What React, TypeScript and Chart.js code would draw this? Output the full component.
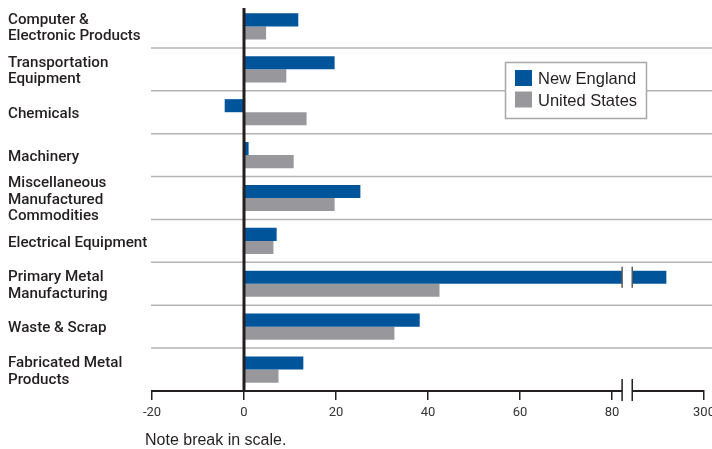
import React, { useEffect, useRef } from "react";
import { Chart, registerables } from "chart.js";

Chart.register(...registerables);

const CATEGORIES: string[][] = [
  ["Computer &", "Electronic Products"],
  ["Transportation", "Equipment"],
  ["Chemicals"],
  ["Machinery"],
  ["Miscellaneous", "Manufactured", "Commodities"],
  ["Electrical Equipment"],
  ["Primary Metal", "Manufacturing"],
  ["Waste & Scrap"],
  ["Fabricated Metal", "Products"],
];

const NEW_ENGLAND = [11.8, 19.7, -4.2, 1.0, 25.3, 7.1, 210, 38.2, 12.9];
const UNITED_STATES = [4.8, 9.2, 13.6, 10.8, 19.7, 6.4, 42.5, 32.7, 7.5];

const TICK_VALUES = [-20, 0, 20, 40, 60, 80, 300];
const SERIES_NAMES = ["New England", "United States"];
const NOTE = "Note break in scale.";

const BLUE = "#00559a";
const GREY = "#98989c";
const INK = "#231f20";

// Broken scale: values above 80 are compressed so 300 sits where 100 would be.
const BREAK_FROM = 80;
const BREAK_TO = 300;
const toAxis = (v: number) =>
  v <= BREAK_FROM ? v : BREAK_FROM + ((v - BREAK_FROM) * 20) / (BREAK_TO - BREAK_FROM);

const FONT = "Roboto, 'Liberation Sans', Arial, sans-serif";
const FONT2 = "'Liberation Sans', Arial, sans-serif";

export default function App() {
  const ref = useRef<HTMLCanvasElement | null>(null);

  useEffect(() => {
    if (!ref.current) return;

    const decor = {
      id: "decor",
      beforeDatasetsDraw(chart: any) {
        const { ctx, chartArea, scales } = chart;
        const y = scales.y;
        ctx.save();
        ctx.strokeStyle = "#b3b3b3";
        ctx.lineWidth = 1.5;
        for (let i = 0; i < CATEGORIES.length - 1; i++) {
          const yy = (y.getPixelForValue(i) + y.getPixelForValue(i + 1)) / 2;
          ctx.beginPath();
          ctx.moveTo(chartArea.left - 1, yy);
          ctx.lineTo(chart.width, yy);
          ctx.stroke();
        }
        ctx.restore();
      },
      afterDatasetsDraw(chart: any) {
        const { ctx, chartArea, scales } = chart;
        const x = scales.x;
        ctx.save();
        // zero line
        const x0 = x.getPixelForValue(0);
        ctx.strokeStyle = INK;
        ctx.lineWidth = 3;
        ctx.beginPath();
        ctx.moveTo(x0, chartArea.top + 3);
        ctx.lineTo(x0, chartArea.bottom);
        ctx.stroke();

        const bx1 = x.getPixelForValue(82.2);
        const bx2 = x.getPixelForValue(84.4);

        // break on the broken bar
        const meta = chart.getDatasetMeta(0);
        NEW_ENGLAND.forEach((v, i) => {
          if (v <= BREAK_FROM) return;
          const el = meta.data[i];
          const h = el.height;
          ctx.fillStyle = "#ffffff";
          ctx.fillRect(bx1, el.y - h / 2 - 0.5, bx2 - bx1, h + 1);
          ctx.strokeStyle = "#5a5a5a";
          ctx.lineWidth = 1.5;
          [bx1, bx2].forEach((bx) => {
            ctx.beginPath();
            ctx.moveTo(bx, el.y - h / 2 - 4);
            ctx.lineTo(bx, el.y + h / 2 + 4);
            ctx.stroke();
          });
        });

        // break on axis
        const ay = chartArea.bottom;
        ctx.fillStyle = "#ffffff";
        ctx.fillRect(bx1, ay - 3, bx2 - bx1, 6);
        ctx.strokeStyle = INK;
        ctx.lineWidth = 1.5;
        [bx1, bx2].forEach((bx) => {
          ctx.beginPath();
          ctx.moveTo(bx, ay - 12);
          ctx.lineTo(bx, ay + 10);
          ctx.stroke();
        });

        // legend
        const lx = 505.5, ly = 62.5, lw = 141, lh = 56;
        ctx.fillStyle = "#ffffff";
        ctx.fillRect(lx, ly, lw, lh);
        ctx.strokeStyle = "#a8a8a8";
        ctx.lineWidth = 1.5;
        ctx.strokeRect(lx, ly, lw, lh);
        const colors = [BLUE, GREY];
        ctx.font = `16.5px ${FONT2}`;
        ctx.textBaseline = "middle";
        ctx.textAlign = "left";
        SERIES_NAMES.forEach((name, i) => {
          ctx.fillStyle = colors[i];
          ctx.fillRect(515, 70 + i * 21.5, 17, 16);
          ctx.fillStyle = INK;
          ctx.fillText(name, 538, 79.5 + i * 21.5);
        });

        // note
        ctx.font = `16px ${FONT2}`;
        ctx.fillStyle = INK;
        ctx.fillText(NOTE, 145, 440.5);
        ctx.restore();
      },
    };

    const chart = new Chart(ref.current, {
      type: "bar",
      data: {
        labels: CATEGORIES,
        datasets: [
          {
            label: SERIES_NAMES[0],
            data: NEW_ENGLAND.map(toAxis),
            backgroundColor: BLUE,
            borderWidth: 0,
            barPercentage: 1,
            categoryPercentage: 0.61,
          },
          {
            label: SERIES_NAMES[1],
            data: UNITED_STATES.map(toAxis),
            backgroundColor: GREY,
            borderWidth: 0,
            barPercentage: 1,
            categoryPercentage: 0.61,
          },
        ],
      },
      options: {
        indexAxis: "y",
        responsive: false,
        animation: false,
        layout: { padding: { left: 8, right: 8, top: 5, bottom: 0 } },
        plugins: {
          legend: { display: false },
          tooltip: { enabled: false },
          title: { display: false },
        },
        scales: {
          x: {
            type: "linear",
            min: -20,
            max: 100,
            afterBuildTicks(scale: any) {
              scale.ticks = TICK_VALUES.map((v) => ({ value: toAxis(v) }));
            },
            afterFit(scale: any) {
              scale.height = 58;
              scale.paddingLeft = 0;
              scale.paddingRight = 0;
            },
            ticks: {
              autoSkip: false,
              maxRotation: 0,
              padding: 5,
              color: "#333333",
              font: { family: FONT, size: 13 },
              callback: (_v: any, i: number) => String(TICK_VALUES[i]),
            },
            grid: {
              drawOnChartArea: false,
              drawTicks: true,
              tickLength: 9,
              color: INK,
              lineWidth: 1.5,
            },
            border: { display: true, color: INK, width: 2 },
          },
          y: {
            type: "category",
            afterFit(scale: any) {
              scale.width = 144;
              scale.paddingTop = 0;
              scale.paddingBottom = 0;
            },
            ticks: {
              autoSkip: false,
              crossAlign: "far",
              labelOffset: 2,
              color: INK,
              font: { family: FONT, size: 15.2, weight: "500", lineHeight: "16.5px" },
            },
            grid: { display: false },
            border: { display: false },
          },
        },
      },
      plugins: [decor],
    } as any);

    return () => chart.destroy();
  }, []);

  return (
    <div style={{ position: "absolute", left: 0, top: 0, width: 712, height: 449 }}>
      <canvas ref={ref} width={712} height={449} style={{ display: "block" }} />
    </div>
  );
}
